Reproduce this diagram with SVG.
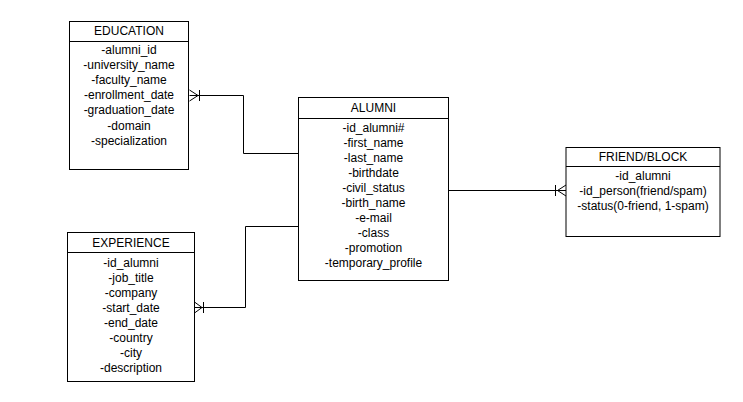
<svg xmlns="http://www.w3.org/2000/svg" width="743" height="402" viewBox="0 0 743 402">
<style>
.box{fill:#fff;stroke:#000;stroke-width:1}
.ln{fill:none;stroke:#000;stroke-width:1}
text{font-family:"Liberation Sans",Arial,sans-serif;font-size:12px;fill:#000;text-anchor:middle;dominant-baseline:central}
</style>
<rect width="743" height="402" fill="#fff"/>
<g id="connectors">
  <path class="ln" d="M189.5 95.5 H243.5 V153.5 H298.5"/>
  <path class="ln" d="M189.5 90 L198 95.5 L189.5 101 M199.5 90 V101"/>
  <path class="ln" d="M194.5 307.5 H245.5 V226.5 H298.5"/>
  <path class="ln" d="M194.5 302 L202 307.5 L194.5 313 M203.5 302 V313"/>
  <path class="ln" d="M448.5 190.5 H566"/>
  <path class="ln" d="M566 185 L557.5 190.5 L566 196 M555.5 185 V196"/>
</g>
<g id="education">
  <rect class="box" x="69.5" y="21.5" width="119" height="148"/>
  <line class="ln" x1="69.5" y1="41.5" x2="188.5" y2="41.5"/>
  <text x="129" y="31">EDUCATION</text>
  <text x="129" y="49.5">-alumni_id</text>
  <text x="129" y="65">-university_name</text>
  <text x="129" y="80">-faculty_name</text>
  <text x="129" y="95">-enrollment_date</text>
  <text x="129" y="110">-graduation_date</text>
  <text x="129" y="125.5">-domain</text>
  <text x="129" y="140.5">-specialization</text>
</g>
<g id="alumni">
  <rect class="box" x="298.5" y="97.5" width="150" height="183"/>
  <line class="ln" x1="298.5" y1="118.5" x2="448.5" y2="118.5"/>
  <text x="373.5" y="108">ALUMNI</text>
  <text x="373.5" y="128">-id_alumni#</text>
  <text x="373.5" y="143">-first_name</text>
  <text x="373.5" y="158">-last_name</text>
  <text x="373.5" y="173">-birthdate</text>
  <text x="373.5" y="188">-civil_status</text>
  <text x="373.5" y="203">-birth_name</text>
  <text x="373.5" y="218">-e-mail</text>
  <text x="373.5" y="233">-class</text>
  <text x="373.5" y="248">-promotion</text>
  <text x="373.5" y="263">-temporary_profile</text>
</g>
<g id="friend_block">
  <rect class="box" x="566" y="147.5" width="154" height="89"/>
  <line class="ln" x1="566" y1="166.5" x2="720" y2="166.5"/>
  <text x="643" y="156.5">FRIEND/BLOCK</text>
  <text x="643" y="176">-id_alumni</text>
  <text x="643" y="191">-id_person(friend/spam)</text>
  <text x="643" y="206">-status(0-friend, 1-spam)</text>
</g>
<g id="experience">
  <rect class="box" x="67.5" y="232.5" width="127" height="149"/>
  <line class="ln" x1="67.5" y1="252.5" x2="194.5" y2="252.5"/>
  <text x="131" y="242.5">EXPERIENCE</text>
  <text x="131" y="263">-id_alumni</text>
  <text x="131" y="278">-job_title</text>
  <text x="131" y="293">-company</text>
  <text x="131" y="308">-start_date</text>
  <text x="131" y="323">-end_date</text>
  <text x="131" y="338">-country</text>
  <text x="131" y="353">-city</text>
  <text x="131" y="368">-description</text>
</g>
</svg>
